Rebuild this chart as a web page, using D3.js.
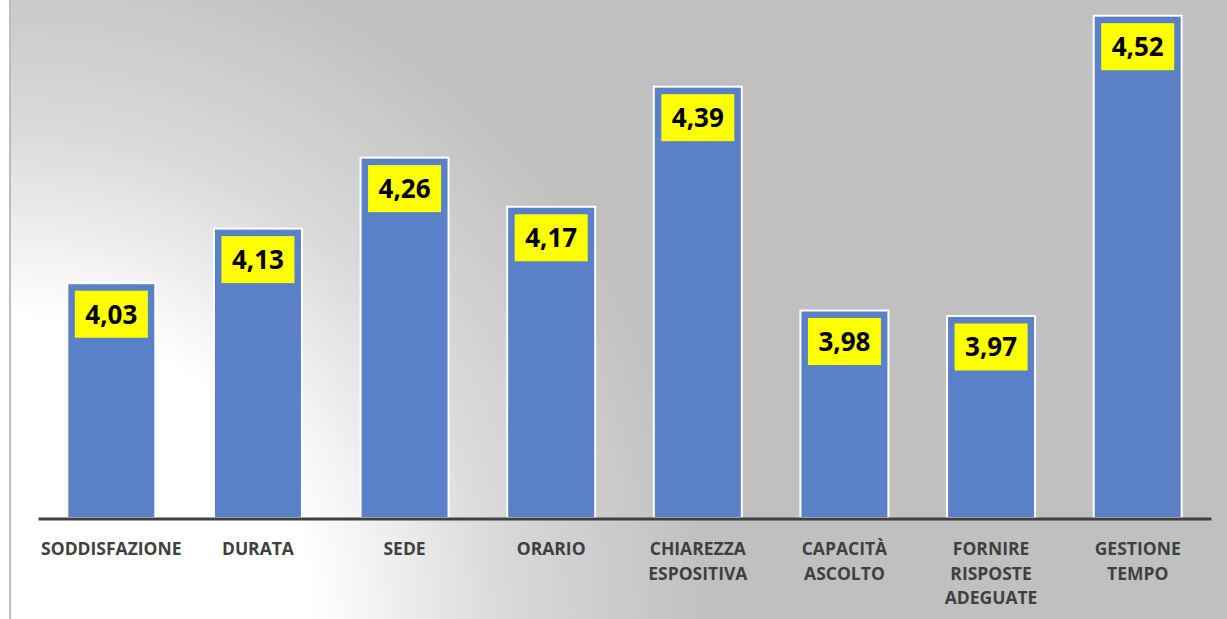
<!DOCTYPE html>
<html>
<head>
<meta charset="utf-8">
<script src="https://cdn.jsdelivr.net/npm/d3@7"></script>
<style>
  body { margin: 0; background: #fff; }
  svg { display: block; }
</style>
</head>
<body>
<div id="chart"></div>
<script>
// categories, one array of lines each (labels wrap in the original)
var categories = [
  ["SODDISFAZIONE"],
  ["DURATA"],
  ["SEDE"],
  ["ORARIO"],
  ["CHIAREZZA", "ESPOSITIVA"],
  ["CAPACITÀ", "ASCOLTO"],
  ["FORNIRE", "RISPOSTE", "ADEGUATE"],
  ["GESTIONE", "TEMPO"]
];
var values = [4.03, 4.13, 4.26, 4.17, 4.39, 3.98, 3.97, 4.52];
var valueLabels = ["4,03", "4,13", "4,26", "4,17", "4,39", "3,98", "3,97", "4,52"];
var yDomain = [3.6, 4.6];

var width = 1227, height = 619;
var svg = d3.select("#chart").append("svg")
  .attr("width", width)
  .attr("height", height);

// background: radial fade from the bottom-left corner, white -> grey
var defs = svg.append("defs");
var grad = defs.append("radialGradient")
  .attr("id", "bg")
  .attr("gradientUnits", "userSpaceOnUse")
  .attr("cx", 10).attr("cy", 619)
  .attr("r", 700);
grad.append("stop").attr("offset", "0.43").attr("stop-color", "#ffffff");
grad.append("stop").attr("offset", "0.7").attr("stop-color", "#dadada");
grad.append("stop").attr("offset", "1").attr("stop-color", "#c0c0c0");

svg.append("rect")
  .attr("x", 10).attr("y", 0)
  .attr("width", width - 10).attr("height", height)
  .attr("fill", "url(#bg)");
svg.append("line")
  .attr("x1", 10).attr("x2", 10)
  .attr("y1", 0).attr("y2", height)
  .attr("stroke", "#bdbdbd")
  .attr("stroke-width", 2);

var x = d3.scaleBand()
  .domain(d3.range(values.length))
  .range([38, 1211])
  .paddingInner(0.4)
  .paddingOuter(0.2);

var y = d3.scaleLinear()
  .domain(yDomain)
  .range([518, -28]);

// bars
svg.append("g").selectAll("rect")
  .data(values)
  .enter()
  .append("rect")
  .attr("x", (d, i) => x(i))
  .attr("y", d => y(d))
  .attr("width", x.bandwidth())
  .attr("height", d => y(yDomain[0]) - y(d))
  .attr("fill", "#5a80c7")
  .attr("stroke", "#ffffff")
  .attr("stroke-width", 2);

// value labels on yellow boxes
var lab = svg.append("g").selectAll("g")
  .data(values)
  .enter()
  .append("g")
  .attr("transform", (d, i) => "translate(" + (x(i) + x.bandwidth() / 2) + "," + (y(d) + 31) + ")");

lab.append("rect")
  .attr("x", -36.5)
  .attr("y", -23.5)
  .attr("width", 73)
  .attr("height", 47)
  .attr("fill", "#ffff00");

lab.append("text")
  .attr("text-anchor", "middle")
  .attr("dy", "0.36em")
  .attr("font-family", "'Open Sans', sans-serif")
  .attr("font-weight", "bold")
  .attr("font-size", 26)
  .attr("fill", "#000")
  .text((d, i) => valueLabels[i]);

// x axis line
var xAxis = d3.axisBottom(x).tickSize(0).tickFormat("");
svg.append("g")
  .attr("transform", "translate(0,518.5)")
  .call(xAxis)
  .call(g => g.select(".domain")
    .attr("stroke", "#404040")
    .attr("stroke-width", 3));

// category labels
var cat = svg.append("g").selectAll("text")
  .data(categories)
  .enter()
  .append("text")
  .attr("text-anchor", "middle")
  .attr("font-family", "'Open Sans', sans-serif")
  .attr("font-weight", "bold")
  .attr("font-size", 17.5)
  .attr("fill", "#404040")
  .attr("transform", (d, i) => "translate(" + (x(i) + x.bandwidth() / 2) + ",555)");

cat.selectAll("tspan")
  .data(d => d)
  .enter()
  .append("tspan")
  .attr("x", 0)
  .attr("dy", (d, j) => j == 0 ? 0 : 24.5)
  .text(d => d);
</script>
</body>
</html>
